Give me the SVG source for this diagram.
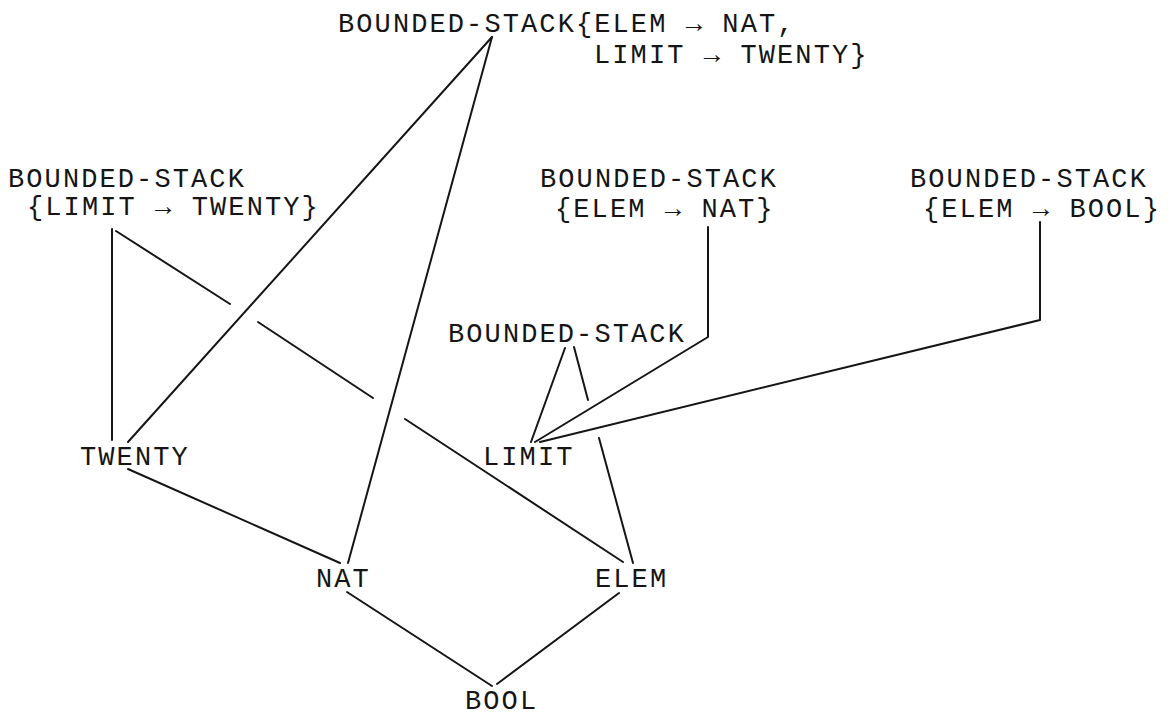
<svg xmlns="http://www.w3.org/2000/svg" width="1173" height="717" viewBox="0 0 1173 717">
<style>
  text { font-family: "Liberation Mono", "DejaVu Sans Mono", monospace; font-size: 27px; letter-spacing: 2.1px; fill: #151515; }
  .c line, .c polyline { stroke: #151515; stroke-width: 2; fill: none; stroke-linecap: round; stroke-linejoin: round; }
</style>
<rect width="1173" height="717" fill="#ffffff"/>
<g class="c" id="connectors">
  <!-- top node -> TWENTY -->
  <line x1="492" y1="37" x2="128" y2="442"/>
  <!-- top node -> NAT -->
  <line x1="492" y1="37" x2="348" y2="563"/>
  <!-- left node -> TWENTY -->
  <line x1="112" y1="229" x2="112" y2="440"/>
  <!-- left node -> ELEM (with crossing gaps) -->
  <line x1="116" y1="231" x2="230" y2="304"/>
  <line x1="258" y1="322" x2="373" y2="398"/>
  <line x1="405" y1="419" x2="623" y2="562"/>
  <!-- middle node -> LIMIT -->
  <polyline points="708,227 708,337 535,442"/>
  <!-- right node -> LIMIT -->
  <polyline points="1040,222 1040,320 540,442"/>
  <!-- lower BOUNDED-STACK -> LIMIT -->
  <line x1="565" y1="348" x2="531" y2="442"/>
  <!-- lower BOUNDED-STACK -> ELEM (with crossing gap) -->
  <line x1="574" y1="347" x2="588" y2="400"/>
  <line x1="599" y1="438" x2="633" y2="563"/>
  <!-- TWENTY -> NAT -->
  <line x1="128" y1="469" x2="340" y2="563"/>
  <!-- NAT -> BOOL -->
  <line x1="347" y1="592" x2="492" y2="686"/>
  <!-- ELEM -> BOOL -->
  <line x1="619" y1="593" x2="497" y2="684"/>
</g>
<g id="bs-elem-nat-limit-twenty">
  <text x="338" y="32">BOUNDED-STACK{ELEM → NAT,</text>
  <text x="594" y="63">LIMIT → TWENTY}</text>
</g>
<g id="bs-limit-twenty">
  <text x="8" y="187">BOUNDED-STACK</text>
  <text x="27" y="215">{LIMIT → TWENTY}</text>
</g>
<g id="bs-elem-nat">
  <text x="540" y="187">BOUNDED-STACK</text>
  <text x="555" y="217">{ELEM → NAT}</text>
</g>
<g id="bs-elem-bool">
  <text x="910" y="187">BOUNDED-STACK</text>
  <text x="923" y="217">{ELEM → BOOL}</text>
</g>
<g id="bs"><text x="448" y="342">BOUNDED-STACK</text></g>
<g id="limit"><text x="483" y="465">LIMIT</text></g>
<g id="twenty"><text x="80" y="465">TWENTY</text></g>
<g id="nat"><text x="316" y="587">NAT</text></g>
<g id="elem"><text x="595" y="587">ELEM</text></g>
<g id="bool"><text x="465" y="709">BOOL</text></g>
</svg>
